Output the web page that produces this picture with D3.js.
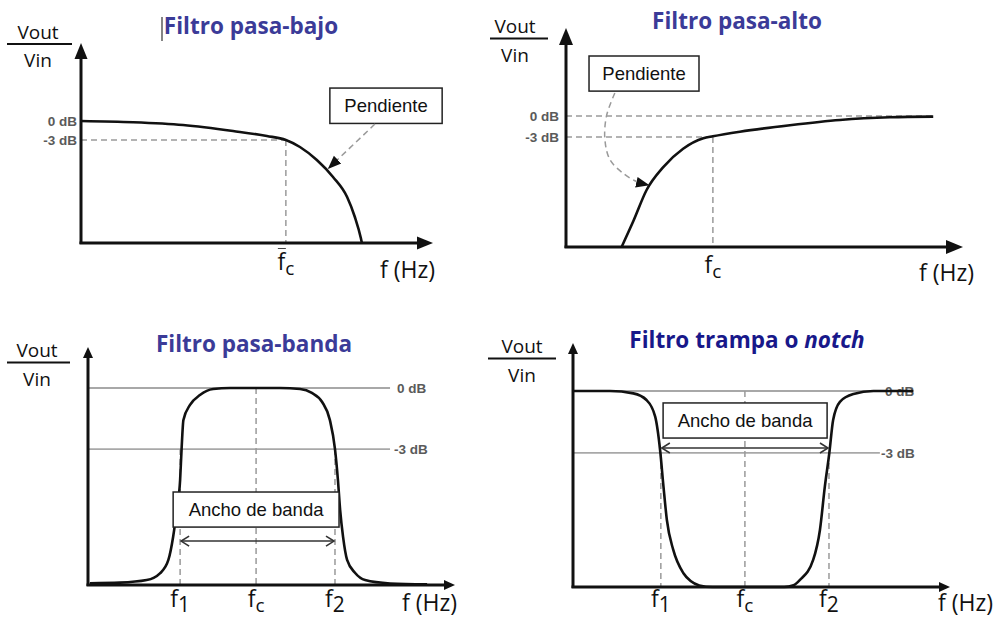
<!DOCTYPE html>
<html lang="es">
<head>
<meta charset="UTF-8">
<title>Tipos de filtros</title>
<script src="https://d3js.org/d3.v7.min.js"></script>
<style>
  body { margin: 0; background: #fff; }
  svg text { font-family: "Open Sans", sans-serif; }
  .box-text, .db { font-family: "Liberation Sans", Arial, sans-serif; }
</style>
</head>
<body>
<div id="chart"></div>
<script>
// curve data: frequency (0..10 along the axis) and relative gain (0 = axis, 1 = 0 dB)
const lowF  = [0, 1.48, 2.9, 4.32, 5.28, 5.82, 6.22, 6.70, 7.16, 7.56, 7.78, 7.95, 7.98];
const lowG  = [1.0, 0.99, 0.967, 0.918, 0.877, 0.844, 0.787, 0.68, 0.541, 0.377, 0.213, 0.041, 0];

const highF = [1.40, 1.70, 2.03, 2.45, 2.95, 3.46, 3.70, 4.38, 5.64, 6.90, 8.16, 9.25];
const highG = [0, 0.20, 0.435, 0.61, 0.75, 0.83, 0.845, 0.88, 0.93, 0.97, 0.99, 0.995];

const bandF = [0.05, 0.87, 1.60, 1.96, 2.19, 2.32, 2.42, 2.51, 2.55, 2.60, 2.78, 3.05, 3.41, 3.87, 4.58,
               5.23, 5.78, 6.10, 6.38, 6.59, 6.73, 6.81, 6.87, 6.95, 7.06, 7.28, 7.55, 8.23, 9.24];
const bandG = [0.009, 0.012, 0.025, 0.059, 0.127, 0.245, 0.381, 0.533, 0.69, 0.838, 0.914, 0.964, 0.995, 1.0, 1.0,
               1.0, 0.995, 0.975, 0.929, 0.838, 0.69, 0.533, 0.381, 0.244, 0.127, 0.061, 0.025, 0.008, 0.003];

const notchF = [0.01, 0.98, 1.60, 1.95, 2.18, 2.31, 2.40, 2.49, 2.66, 2.93, 3.12, 3.35, 3.70,
                5.60, 5.85, 6.02, 6.37, 6.55, 6.68, 6.80, 6.90, 7.08, 7.44, 7.97, 9.03];
const notchG = [1.0, 1.0, 0.988, 0.954, 0.869, 0.699, 0.512, 0.342, 0.189, 0.07, 0.03, 0.008, 0,
                0, 0.009, 0.036, 0.138, 0.291, 0.512, 0.685, 0.852, 0.945, 0.985, 1.0, 1.0];

// reference levels [0 dB, -3 dB] per panel
const lowLevels   = [1, 0.844];
const highLevels  = [1, 0.84];
const bandLevels  = [1, 0.69];
const notchLevels = [1, 0.684];
const dbLabels = ["0 dB", "-3 dB"];

// marked frequencies
const lowFc = [5.82];
const highFc = [3.70];
const bandMarks = [2.51, 4.58, 6.73];
const notchMarks = [2.33, 4.56, 6.79];
const markLabels = ["1", "C", "2"];

const titles = ["Filtro pasa-bajo", "Filtro pasa-alto", "Filtro pasa-banda", "Filtro trampa o "];

const W = 993, H = 619;
const svg = d3.select("#chart").append("svg").attr("width", W).attr("height", H);

const defs = svg.append("defs");
defs.append("marker").attr("id", "tri")
    .attr("viewBox", "0 0 10 10").attr("refX", 9).attr("refY", 5)
    .attr("markerWidth", 9).attr("markerHeight", 9).attr("orient", "auto")
  .append("path").attr("d", "M0,1 L10,5 L0,9 Z").attr("fill", "#111");

const line = d3.line().curve(d3.curveMonotoneX);

function panel(p) {
    const g = svg.append("g");
    const x = d3.scaleLinear().domain([0, 10]).range([p.x0, p.xTip]);
    const y = d3.scaleLinear().domain([0, 1]).range([p.y0, p.y1]);
    return { g, x, y };
}

function axes(g, p, head) {
    g.append("line").attr("x1", p.x0).attr("y1", p.y0 + 1).attr("x2", p.x0).attr("y2", p.yTip + head[0] - 2)
        .attr("stroke", "#111").attr("stroke-width", 3);
    g.append("line").attr("x1", p.x0 - 1.5).attr("y1", p.y0).attr("x2", p.xTip - head[0] + 2).attr("y2", p.y0)
        .attr("stroke", "#111").attr("stroke-width", 3);
    g.append("path").attr("fill", "#111")
        .attr("d", `M${p.x0},${p.yTip} L${p.x0 - head[1]},${p.yTip + head[0]} L${p.x0 + head[1]},${p.yTip + head[0]} Z`);
    g.append("path").attr("fill", "#111")
        .attr("d", `M${p.xTip},${p.y0} L${p.xTip - head[0]},${p.y0 - head[1]} L${p.xTip - head[0]},${p.y0 + head[1]} Z`);
}

function vinVout(g, cx, top, x1, x2) {
    g.append("text").attr("x", cx).attr("y", top).attr("text-anchor", "middle")
        .attr("font-size", 19).attr("fill", "#111").text("Vout");
    g.append("line").attr("x1", x1).attr("x2", x2).attr("y1", top + 5.5).attr("y2", top + 5.5)
        .attr("stroke", "#111").attr("stroke-width", 2);
    g.append("text").attr("x", cx).attr("y", top + 28.5).attr("text-anchor", "middle")
        .attr("font-size", 19).attr("fill", "#111").text("Vin");
}

function title(g, cx, yb, txt, color, italic) {
    const t = g.append("text").attr("x", cx).attr("y", yb).attr("text-anchor", "middle")
        .attr("font-size", 22.5).attr("font-weight", "bold").attr("fill", color).text(txt);
    if (italic) t.append("tspan").attr("font-style", "italic").text(italic);
}

function fLabel(g, cx, yb, sub) {
    const t = g.append("text").attr("x", cx).attr("y", yb).attr("text-anchor", "middle")
        .attr("font-size", 23).attr("fill", "#111");
    t.append("tspan").text("f");
    t.append("tspan").attr("dy", 5).attr("font-size", sub === "C" ? 19 : 21).text(sub === "C" ? "c" : sub);
}

function hz(g, xr, yb) {
    g.append("text").attr("x", xr).attr("y", yb).attr("text-anchor", "end")
        .attr("font-size", 23).attr("fill", "#111").text("f (Hz)");
}

function box(g, x1, y1, x2, y2, txt) {
    g.append("rect").attr("x", x1).attr("y", y1).attr("width", x2 - x1).attr("height", y2 - y1)
        .attr("fill", "#fff").attr("stroke", "#222").attr("stroke-width", 1.5);
    g.append("text").attr("class", "box-text").attr("x", (x1 + x2) / 2).attr("y", (y1 + y2) / 2 + 6.5)
        .attr("text-anchor", "middle").attr("font-size", 18.5).attr("fill", "#111").text(txt);
}

function dbText(g, xx, yy, txt, anchor) {
    g.append("text").attr("class", "db").attr("x", xx).attr("y", yy + 5).attr("text-anchor", anchor)
        .attr("font-size", 13.5).attr("font-weight", "bold").attr("fill", "#5a5a5a").text(txt);
}

function dashed(g, x1, y1, x2, y2) {
    g.append("line").attr("x1", x1).attr("y1", y1).attr("x2", x2).attr("y2", y2)
        .attr("stroke", "#9a9a9a").attr("stroke-width", 1.5).attr("stroke-dasharray", "6,4");
}

function solidRef(g, x1, y1, x2) {
    g.append("line").attr("x1", x1).attr("y1", y1).attr("x2", x2).attr("y2", y1)
        .attr("stroke", "#a8a8a8").attr("stroke-width", 1.8);
}

function curve(g, x, y, fs, gs) {
    g.append("path").datum(fs.map((f, i) => [x(f), y(gs[i])]))
        .attr("fill", "none").attr("stroke", "#111").attr("stroke-width", 2.6)
        .attr("stroke-linejoin", "round").attr("d", line);
}

function doubleArrow(g, xa, xb, yy) {
    g.append("line").attr("x1", xa + 1).attr("x2", xb - 1).attr("y1", yy).attr("y2", yy)
        .attr("stroke", "#333").attr("stroke-width", 1.6);
    g.append("path").attr("fill", "none").attr("stroke", "#333").attr("stroke-width", 1.6)
        .attr("d", `M${xa + 9},${yy - 5} L${xa + 1},${yy} L${xa + 9},${yy + 5} M${xb - 9},${yy - 5} L${xb - 1},${yy} L${xb - 9},${yy + 5}`);
}

// ---------- Filtro pasa-bajo ----------
{
    const p = { x0: 81, xTip: 433, y0: 243, y1: 121, yTip: 43 };
    const { g, x, y } = panel(p);
    title(g, 251, 34, titles[0], "#3b3b98");
    g.append("line").attr("x1", 162).attr("x2", 162).attr("y1", 17).attr("y2", 41)
        .attr("stroke", "#333").attr("stroke-width", 1.2);
    vinVout(g, 38, 38.5, 7, 72);
    dashed(g, x(0), y(lowLevels[1]), x(lowFc[0]), y(lowLevels[1]));
    dashed(g, x(lowFc[0]), y(lowLevels[1]), x(lowFc[0]), y(0));
    dbLabels.forEach((t, i) => dbText(g, 77, y(lowLevels[i]), t, "end"));
    curve(g, x, y, lowF, lowG);
    box(g, x(7.07), y(1.27), x(10.26), y(0.98), "Pendiente");
    g.append("path").attr("fill", "none").attr("stroke", "#9a9a9a").attr("stroke-width", 1.5)
        .attr("stroke-dasharray", "6,4").attr("marker-end", "url(#tri)")
        .attr("d", line([[x(8.35), y(0.975)], [x(7.04), y(0.615)]]));
    axes(g, p, [16, 6.5]);
    g.append("line").attr("x1", x(lowFc[0]) - 8).attr("x2", x(lowFc[0])).attr("y1", 248.5).attr("y2", 248.5)
        .attr("stroke", "#444").attr("stroke-width", 1);
    fLabel(g, x(lowFc[0]), 270, markLabels[1]);
    hz(g, 435, 278);
}

// ---------- Filtro pasa-alto ----------
{
    const p = { x0: 566, xTip: 963, y0: 247, y1: 116, yTip: 28 };
    const { g, x, y } = panel(p);
    title(g, 737, 29, titles[1], "#3b3b98");
    vinVout(g, 515, 33, 490, 548);
    dashed(g, x(0), y(highLevels[0]), x(9.25), y(highLevels[0]));
    dashed(g, x(0), y(highLevels[1]), x(highFc[0]), y(highLevels[1]));
    dashed(g, x(highFc[0]), y(highLevels[1]), x(highFc[0]), y(0));
    dbLabels.forEach((t, i) => dbText(g, 559, y(highLevels[i]), t, "end"));
    curve(g, x, y, highF, highG);
    box(g, x(0.58), y(1.458), x(3.35), y(1.19), "Pendiente");
    g.append("path").attr("fill", "none").attr("stroke", "#9a9a9a").attr("stroke-width", 1.5)
        .attr("stroke-dasharray", "6,4").attr("marker-end", "url(#tri)")
        .attr("d", d3.line().curve(d3.curveCatmullRom)([
            [x(1.23), y(1.176)], [x(1.02), y(1.0)], [x(0.98), y(0.82)], [x(1.11), y(0.665)],
            [x(1.45), y(0.56)], [x(1.78), y(0.5)], [x(2.07), y(0.473)]]));
    axes(g, p, [17, 7]);
    fLabel(g, x(highFc[0]), 273, markLabels[1]);
    hz(g, 974, 281);
}

// ---------- Filtro pasa-banda ----------
{
    const p = { x0: 88, xTip: 455, y0: 585, y1: 388, yTip: 347 };
    const { g, x, y } = panel(p);
    title(g, 254, 352, titles[2], "#3b3b98");
    vinVout(g, 37, 357, 7, 70);
    bandLevels.forEach(v => solidRef(g, x(0), y(v), x(8.23)));
    bandMarks.forEach((f, i) => dashed(g, x(f), y(i === 1 ? bandLevels[0] : bandLevels[1]), x(f), y(0)));
    dbText(g, 397, y(bandLevels[0]), dbLabels[0], "start");
    dbText(g, 394, y(bandLevels[1]), dbLabels[1], "start");
    curve(g, x, y, bandF, bandG);
    box(g, x(2.32), y(0.472), x(6.84), y(0.294), "Ancho de banda");
    doubleArrow(g, x(bandMarks[0]), x(bandMarks[2]), y(0.223));
    axes(g, p, [11, 5]);
    bandMarks.forEach((f, i) => fLabel(g, x(f), 607, markLabels[i]));
    hz(g, 457, 611);
}

// ---------- Filtro trampa o notch ----------
{
    const p = { x0: 573, xTip: 950, y0: 587, y1: 391, yTip: 343 };
    const { g, x, y } = panel(p);
    title(g, 747, 348, titles[3], "#18188a", "notch");
    vinVout(g, 522, 353, 488, 556);
    solidRef(g, x(0), y(notchLevels[0]), x(9.02));
    solidRef(g, x(0), y(notchLevels[1]), x(8.14));
    notchMarks.forEach((f, i) => dashed(g, x(f), y(i === 1 ? notchLevels[0] : notchLevels[1]), x(f), y(0)));
    dbText(g, 885, y(notchLevels[0]), dbLabels[0], "start");
    dbText(g, 881, y(notchLevels[1]), dbLabels[1], "start");
    curve(g, x, y, notchF, notchG);
    box(g, x(2.39), y(0.939), x(6.74), y(0.76), "Ancho de banda");
    doubleArrow(g, x(notchMarks[0]), x(notchMarks[2]), y(0.709));
    axes(g, p, [11, 5]);
    notchMarks.forEach((f, i) => fLabel(g, x(f), 607, markLabels[i]));
    hz(g, 993, 611);
}
</script>
</body>
</html>
